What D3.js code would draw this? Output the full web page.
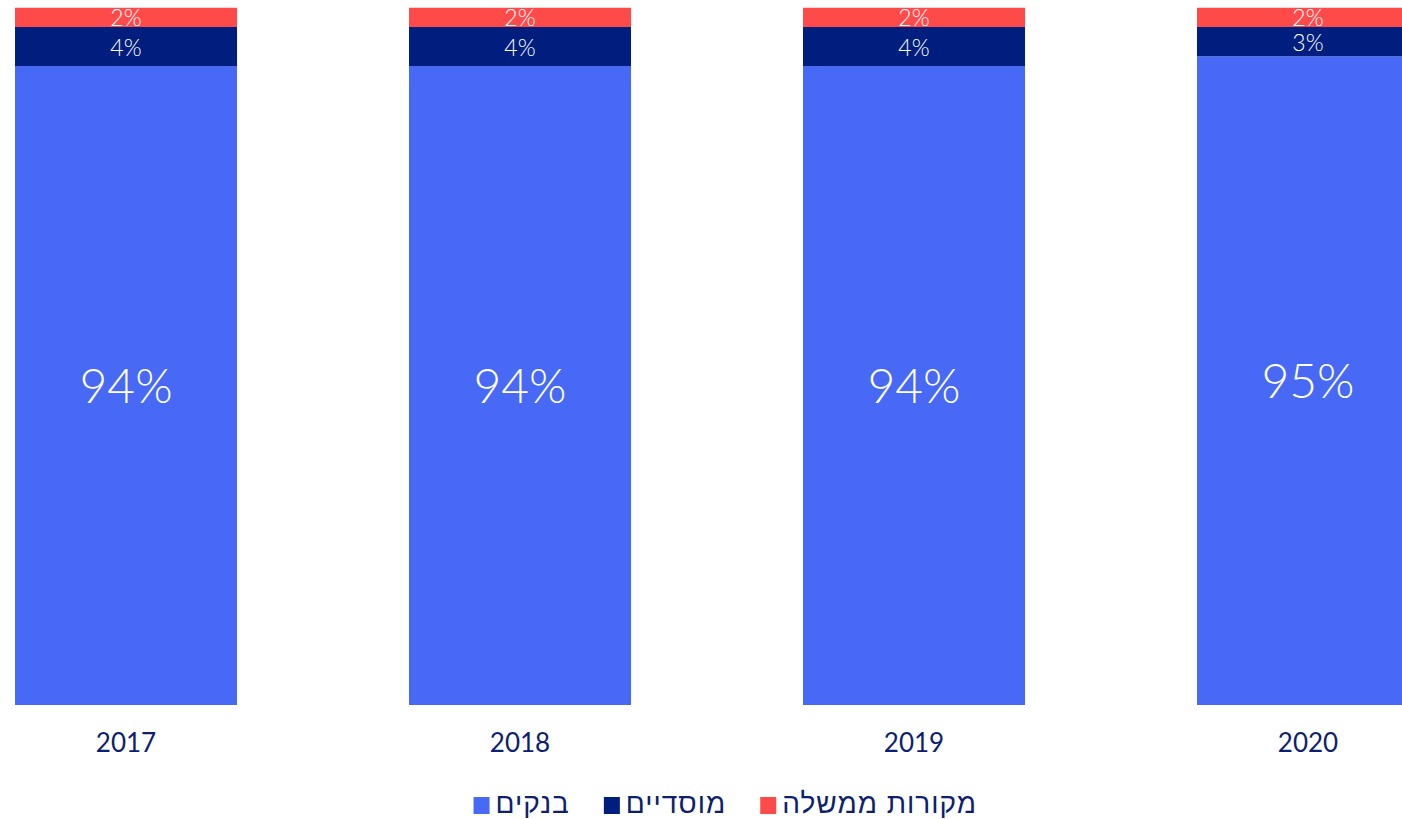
<!DOCTYPE html>
<html>
<head>
<meta charset="utf-8">
<script src="https://cdn.jsdelivr.net/npm/d3@7"></script>
<style>
  body { margin: 0; background: #fff; }
  svg { display: block; }
</style>
</head>
<body>
<div id="chart"></div>
<script>
// data
const years = ['2017', '2018', '2019', '2020'];
const banks = [94, 94, 94, 95];
const institutional = [4, 4, 4, 3];
const government = [2, 2, 2, 2];

const seriesKeys = ['banks', 'institutional', 'government'];
const seriesNames = ['בנקים', 'מוסדיים', 'מקורות ממשלה'];
const colors = ['#4769f6', '#001e7d', '#ff4a4a'];

const width = 1402;
const height = 819;

const table = years.map((yr, i) => ({
  year: yr,
  banks: banks[i],
  institutional: institutional[i],
  government: government[i]
}));

const svg = d3.select('#chart')
  .append('svg')
  .attr('width', width)
  .attr('height', height);

// plot area is clipped at the top
svg.append('clipPath').attr('id', 'plotClip')
  .append('rect')
  .attr('x', 0).attr('y', 7.5)
  .attr('width', width).attr('height', 698);

const x = d3.scaleBand()
  .domain(years)
  .range([15, 1419])
  .paddingInner(0.4365)
  .paddingOuter(0);

// value axis doesn't start at zero
const y = d3.scaleLinear()
  .domain([28.5, 100])
  .range([705, 7.5]);

const stacked = d3.stack().keys(seriesKeys)(table);

const plot = svg.append('g').attr('clip-path', 'url(#plotClip)');

const layers = plot.selectAll('g.layer')
  .data(stacked)
  .enter()
  .append('g')
  .attr('class', 'layer')
  .attr('fill', (d, i) => colors[i]);

const yMin = y.domain()[0], yMax = y.domain()[1];

layers.selectAll('rect')
  .data(d => d)
  .enter()
  .append('rect')
  .attr('x', d => x(d.data.year))
  .attr('width', x.bandwidth())
  .attr('y', d => y(d[1]))
  .attr('height', d => y(Math.max(d[0], yMin)) - y(d[1]));

// labels in the middle of each visible segment
stacked.forEach((layer, li) => {
  plot.selectAll('text.l' + li)
    .data(layer)
    .enter()
    .append('text')
    .attr('class', 'l' + li)
    .attr('x', d => x(d.data.year) + x.bandwidth() / 2)
    .attr('y', d => (y(Math.min(d[1], yMax)) + y(Math.max(d[0], yMin))) / 2)
    .attr('dy', li === 1 ? '0.42em' : '0.36em')
    .attr('text-anchor', 'middle')
    .attr('fill', '#fff')
    .style('font-family', 'Lato, "Open Sans", sans-serif')
    .style('font-weight', 300)
    .style('font-size', li === 0 ? '48px' : '23px')
    .text(d => (d[1] - d[0]) + '%');
});

// year labels
svg.append('g')
  .selectAll('text')
  .data(years)
  .enter()
  .append('text')
  .attr('x', d => x(d) + x.bandwidth() / 2)
  .attr('y', 743)
  .attr('dy', '0.36em')
  .attr('text-anchor', 'middle')
  .attr('fill', '#0b2170')
  .style('font-family', 'Lato, "Open Sans", sans-serif')
  .style('font-size', '26px')
  .text(d => d);

// legend, laid out right to left
const legend = svg.append('g');
let cursor = 977;
for (let i = seriesNames.length - 1; i >= 0; i--) {
  const t = legend.append('text')
    .attr('x', cursor)
    .attr('y', 803)
    .attr('dy', '0.36em')
    .attr('text-anchor', 'end')
    .attr('fill', '#0b2170')
    .style('font-family', '"Liberation Sans", Arial, sans-serif')
    .style('font-size', '28px')
    .style('letter-spacing', '1px')
    .text(seriesNames[i]);
  const w = t.node().getComputedTextLength();
  legend.append('rect')
    .attr('x', cursor - w - 22)
    .attr('y', 797)
    .attr('width', 16)
    .attr('height', 17)
    .attr('fill', colors[i]);
  cursor = cursor - w - 22 - 34;
}
</script>
</body>
</html>
